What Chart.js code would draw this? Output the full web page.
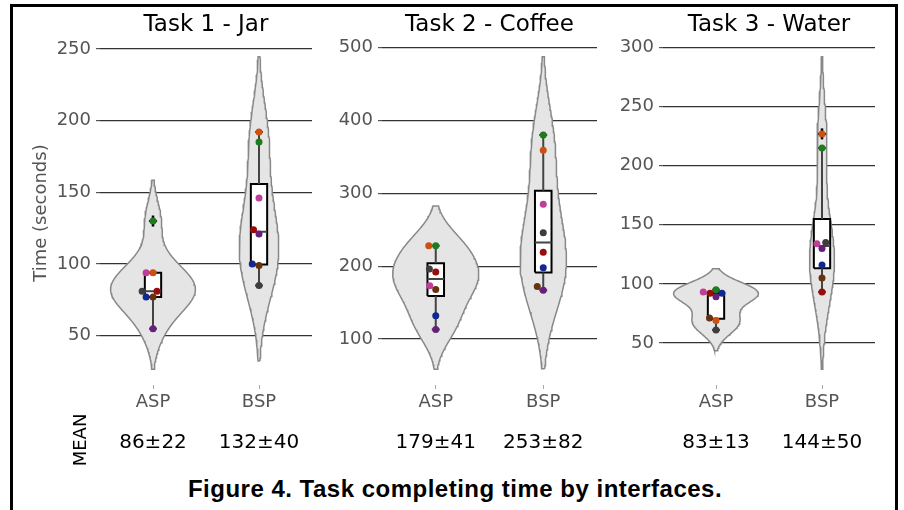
<!DOCTYPE html>
<html>
<head>
<meta charset="utf-8">
<script src="https://cdn.jsdelivr.net/npm/chart.js@4.4.0/dist/chart.umd.min.js"></script>
<style>
  body { margin: 0; background: #fff; width: 904px; height: 510px; overflow: hidden; position: relative; }
  #frame { position: absolute; left: 10px; top: 4px; width: 882px; height: 530px; border: 3px solid #000; }
  canvas { position: absolute; top: 0; }
  #caption { position: absolute; left: 0; width: 910px; top: 477px; text-align: center;
             font: bold 24px "Liberation Sans", Arial, sans-serif; line-height: 24px;
             letter-spacing: 0.5px; color: #000; }
</style>
</head>
<body>
<div id="frame"></div>
<canvas id="c0" width="315" height="470" style="left:5px"></canvas>
<canvas id="c1" width="315" height="470" style="left:287px"></canvas>
<canvas id="c2" width="315" height="470" style="left:568px"></canvas>
<div id="caption">Figure 4. Task completing time by interfaces.</div>
<script>
const tasks = ['Task 1 - Jar', 'Task 2 - Coffee', 'Task 3 - Water'];
const groups = ['ASP', 'BSP'];

// one colour per participant, same order in every series below
const participantColors = ['#1e7b1e', '#cc5010', '#bf3f98', '#990c0c', '#3d3d3d', '#66330f', '#10288f', '#661f7a'];

// completion time (seconds) per participant
const jarASP = [130, 94, 94, 81, 81, 77, 77, 55];
const jarBSP = [185, 192, 146, 124, 85, 99, 100, 121];
const coffeeASP = [228, 228, 173, 192, 196, 168, 132, 113];
const coffeeBSP = [380, 359, 285, 219, 246, 172, 198, 167];
const waterASP = [95, 69, 93, 92, 61, 71, 92, 89];
const waterBSP = [215, 227, 134, 93, 135, 105, 116, 130];

const jarMeans = ['86±22', '132±40'];
const coffeeMeans = ['179±41', '253±82'];
const waterMeans = ['83±13', '144±50'];

const jarTicks = [50, 100, 150, 200, 250];
const coffeeTicks = [100, 200, 300, 400, 500];
const waterTicks = [50, 100, 150, 200, 250, 300];

const panels = [
  { title: tasks[0], series: [jarASP, jarBSP], means: jarMeans, ticks: jarTicks },
  { title: tasks[1], series: [coffeeASP, coffeeBSP], means: coffeeMeans, ticks: coffeeTicks },
  { title: tasks[2], series: [waterASP, waterBSP], means: waterMeans, ticks: waterTicks }
];

const PLOT_H = 344, PX_PER_X = 107.5, DOT = 7;
const BOX_HW = 0.077, CAP_HW = 0.037;

Chart.defaults.font.family = '"DejaVu Sans"';

function quantile(s, p) {
  const i = (s.length - 1) * p, lo = Math.floor(i);
  const hi = Math.min(lo + 1, s.length - 1);
  return s[lo] + (s[hi] - s[lo]) * (i - lo);
}

function boxStats(vals) {
  const s = [...vals].sort((a, b) => a - b);
  const q1 = quantile(s, 0.25), q3 = quantile(s, 0.75), med = quantile(s, 0.5);
  const iqr = q3 - q1;
  const inRange = v => v >= q1 - 1.5 * iqr && v <= q3 + 1.5 * iqr;
  const inside = s.filter(inRange);
  return { q1, q3, med, lo: inside[0], hi: inside[inside.length - 1], out: s.filter(v => !inRange(v)) };
}

// gaussian kde, scott bandwidth, cut = 2 (as seaborn does)
function kde(vals) {
  const n = vals.length;
  const mean = vals.reduce((a, b) => a + b, 0) / n;
  const sd = Math.sqrt(vals.reduce((a, v) => a + (v - mean) ** 2, 0) / (n - 1));
  const bw = Math.pow(n, -0.2) * sd;
  const lo = Math.min(...vals) - 2 * bw, hi = Math.max(...vals) + 2 * bw;
  const ys = [], ds = [];
  for (let i = 0; i < 100; i++) {
    const y = lo + (hi - lo) * i / 99;
    let d = 0;
    vals.forEach(v => { d += Math.exp(-0.5 * ((y - v) / bw) ** 2); });
    ys.push(y);
    ds.push(d / (n * bw * Math.sqrt(2 * Math.PI)));
  }
  return { ys, ds, lo, hi };
}

// simple beeswarm dodge, returns x offsets in category units
function swarm(vals, pxPerY) {
  const order = vals.map((v, i) => i).sort((a, b) => vals[a] - vals[b]);
  const placed = [], off = new Array(vals.length);
  for (const i of order) {
    const y = vals[i] * pxPerY;
    const near = placed.filter(p => Math.abs(p.y - y) < DOT);
    const cands = [0];
    near.forEach(p => {
      const dx = Math.sqrt(DOT * DOT - (p.y - y) ** 2);
      cands.push(p.x - dx, p.x + dx);
    });
    cands.sort((a, b) => Math.abs(a) - Math.abs(b) || a - b);
    const x = cands.find(c => near.every(p => (p.x - c) ** 2 + (p.y - y) ** 2 >= DOT * DOT - 0.01));
    placed.push({ x, y });
    off[i] = x / PX_PER_X;
  }
  return off;
}

const panelText = {
  id: 'panelText',
  afterDraw(chart, args, opts) {
    const { ctx, chartArea } = chart;
    const x = chart.scales.x;
    ctx.save();
    ctx.fillStyle = '#000';
    ctx.textAlign = 'center';
    ctx.textBaseline = 'middle';
    ctx.font = '23px "DejaVu Sans"';
    ctx.fillText(opts.title, (chartArea.left + chartArea.right) / 2, 25);
    ctx.font = '20px "DejaVu Sans"';
    opts.labels.forEach((t, i) => ctx.fillText(t, x.getPixelForValue(i), 443));
    if (opts.side) {
      ctx.translate(76, 440);
      ctx.rotate(-Math.PI / 2);
      ctx.font = '18px "DejaVu Sans"';
      ctx.fillText(opts.side, 0, 0);
    }
    ctx.restore();
  }
};

panels.forEach((p, pi) => {
  const dens = p.series.map(kde);
  const yLo = Math.min(...dens.map(d => d.lo)), yHi = Math.max(...dens.map(d => d.hi));
  const pad = 0.05 * (yHi - yLo);
  const yMin = yLo - pad, yMax = yHi + pad;
  const pxPerY = PLOT_H / (yMax - yMin);
  const maxD = Math.max(...dens.flatMap(d => d.ds));

  const datasets = [];
  p.series.forEach((vals, g) => {
    const k = dens[g];
    const right = k.ys.map((y, i) => ({ x: g + 0.4 * k.ds[i] / maxD, y }));
    const left = k.ys.map((y, i) => ({ x: g - 0.4 * k.ds[i] / maxD, y })).reverse();
    datasets.push({
      data: right.concat(left, [right[0]]), showLine: true, fill: 'shape',
      backgroundColor: '#e5e5e5', borderColor: '#888', borderWidth: 1.5,
      pointRadius: 0, order: 5
    });

    const b = boxStats(vals);
    datasets.push({
      data: [
        { x: g - BOX_HW, y: b.q1 }, { x: g + BOX_HW, y: b.q1 }, { x: g + BOX_HW, y: b.q3 },
        { x: g - BOX_HW, y: b.q3 }, { x: g - BOX_HW, y: b.q1 }
      ],
      showLine: true, fill: 'shape', backgroundColor: '#fff', borderColor: '#000',
      borderWidth: 2, pointRadius: 0, order: 4
    });
    datasets.push({
      data: [
        { x: g, y: b.q1 }, { x: g, y: b.lo }, { x: g, y: null },
        { x: g, y: b.q3 }, { x: g, y: b.hi }, { x: g, y: null },
        { x: g - CAP_HW, y: b.lo }, { x: g + CAP_HW, y: b.lo }, { x: g, y: null },
        { x: g - CAP_HW, y: b.hi }, { x: g + CAP_HW, y: b.hi }, { x: g, y: null },
        { x: g - BOX_HW, y: b.med }, { x: g + BOX_HW, y: b.med }
      ],
      showLine: true, spanGaps: false, borderColor: '#444', borderWidth: 2,
      pointRadius: 0, order: 3
    });
    // outliers: thin black diamond behind the participant dot
    datasets.push({
      data: b.out.map(v => ({ x: g, y: v })),
      pointStyle: 'rectRot', pointRadius: 4.4, backgroundColor: '#000', borderWidth: 0, order: 2
    });
    datasets.push({
      data: b.out.map(v => ({ x: g, y: v })),
      pointStyle: 'line', pointRotation: 90, pointRadius: 5.5, borderColor: '#000', borderWidth: 2.5, order: 2
    });
    const off = swarm(vals, pxPerY);
    datasets.push({
      data: vals.map((v, i) => ({ x: g + off[i], y: v })),
      pointRadius: 3.5, pointBorderWidth: 0,
      pointBackgroundColor: participantColors, order: 1
    });
  });

  new Chart(document.getElementById('c' + pi), {
    type: 'scatter',
    data: { datasets },
    plugins: [panelText],
    options: {
      responsive: false,
      animation: false,
      events: [],
      layout: { padding: { left: 0, right: 5, top: 41, bottom: 0 } },
      plugins: {
        legend: { display: false },
        tooltip: { enabled: false },
        title: { display: false },
        panelText: { title: p.title, labels: p.means, side: pi === 0 ? 'MEAN' : '' }
      },
      scales: {
        x: {
          type: 'linear', min: -0.5, max: 1.5,
          afterBuildTicks: s => { s.ticks = groups.map((g, i) => ({ value: i })); },
          afterFit: s => { s.height = 85; },
          ticks: { callback: v => groups[v], color: '#555', font: { size: 18 }, padding: 3, autoSkip: false, maxRotation: 0 },
          grid: { drawOnChartArea: false, drawTicks: true, tickLength: 4, tickColor: '#aaa' },
          border: { display: false }
        },
        y: {
          min: yMin, max: yMax,
          afterBuildTicks: s => { s.ticks = p.ticks.map(v => ({ value: v })); },
          afterFit: s => { s.width = 95; },
          ticks: { color: '#555', font: { size: 18 }, padding: 5 },
          grid: { color: '#333', lineWidth: 1.2, tickLength: 4, tickColor: '#555' },
          border: { display: false },
          title: {
            display: pi === 0, text: 'Time (seconds)', color: '#555',
            font: { size: 18 }, padding: { top: 26 }
          }
        }
      }
    }
  });
});
</script>
</body>
</html>
